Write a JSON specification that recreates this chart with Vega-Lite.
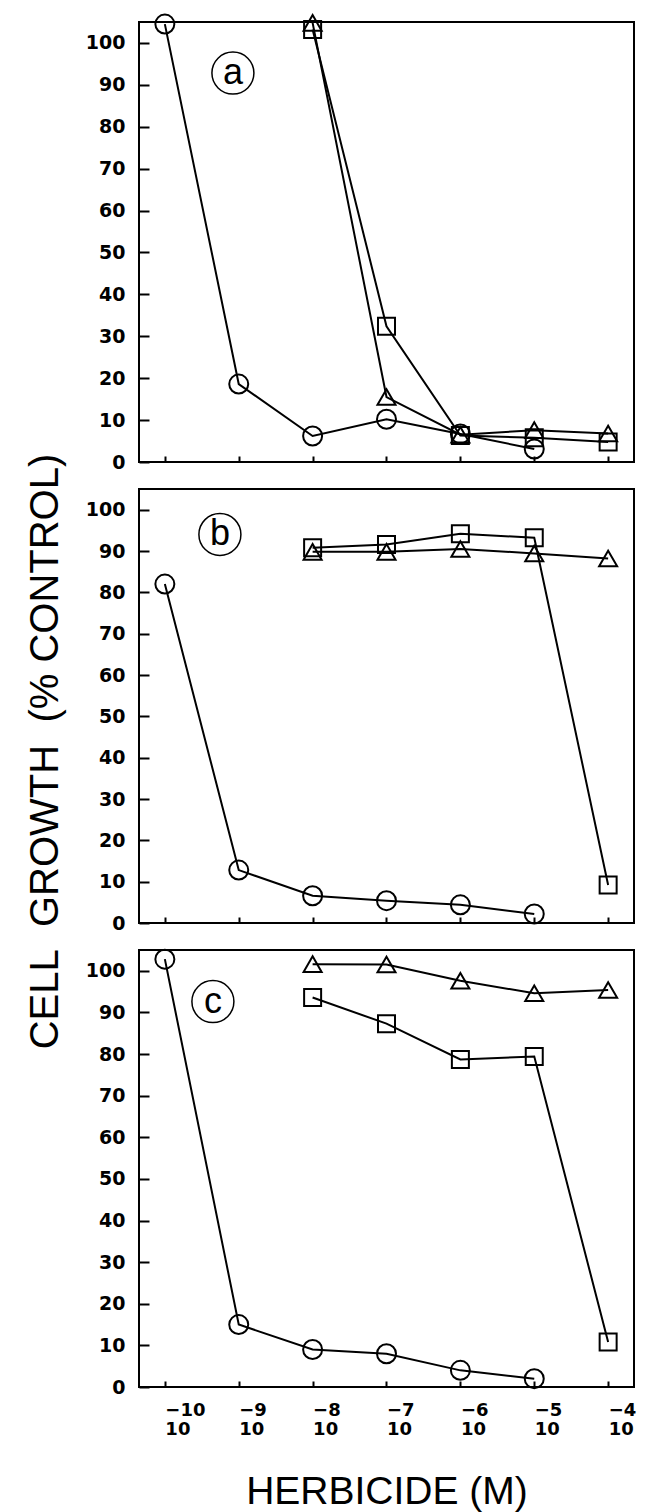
{
  "$schema": "https://vega.github.io/schema/vega-lite/v6.json",
  "background": "white",
  "padding": {"left": 23, "top": 9, "right": 5, "bottom": 0},
  "spacing": 27,
  "bounds": "flush",
  "resolve": {"scale": {"x": "independent", "y": "independent"}},
  "config": {
    "view": {"stroke": "black", "strokeWidth": 2},
    "axis": {
      "domain": false, "grid": false,
      "tickColor": "black", "tickWidth": 2,
      "labelColor": "black", "titleColor": "black",
      "labelFont": "DejaVu Sans", "labelFontWeight": "bold", "labelFontSize": 19
    }
  },
  "datasets": {
    "pts": [
      {"panel": "a", "series": "circle", "conc": 1e-10, "growth": 104.5},
      {"panel": "a", "series": "circle", "conc": 1e-9, "growth": 18.6},
      {"panel": "a", "series": "circle", "conc": 1e-8, "growth": 6.2},
      {"panel": "a", "series": "circle", "conc": 1e-7, "growth": 10.2},
      {"panel": "a", "series": "circle", "conc": 1e-6, "growth": 6.7},
      {"panel": "a", "series": "circle", "conc": 1e-5, "growth": 3.1},
      {"panel": "a", "series": "triangle", "conc": 1e-8, "growth": 104.8},
      {"panel": "a", "series": "triangle", "conc": 1e-7, "growth": 15.5},
      {"panel": "a", "series": "triangle", "conc": 1e-6, "growth": 6.5},
      {"panel": "a", "series": "triangle", "conc": 1e-5, "growth": 7.6},
      {"panel": "a", "series": "triangle", "conc": 1e-4, "growth": 6.8},
      {"panel": "a", "series": "square", "conc": 1e-8, "growth": 103.2},
      {"panel": "a", "series": "square", "conc": 1e-7, "growth": 32.4},
      {"panel": "a", "series": "square", "conc": 1e-6, "growth": 6.3},
      {"panel": "a", "series": "square", "conc": 1e-5, "growth": 5.8},
      {"panel": "a", "series": "square", "conc": 1e-4, "growth": 4.8},
      {"panel": "b", "series": "circle", "conc": 1e-10, "growth": 82},
      {"panel": "b", "series": "circle", "conc": 1e-9, "growth": 12.8},
      {"panel": "b", "series": "circle", "conc": 1e-8, "growth": 6.6},
      {"panel": "b", "series": "circle", "conc": 1e-7, "growth": 5.4},
      {"panel": "b", "series": "circle", "conc": 1e-6, "growth": 4.4},
      {"panel": "b", "series": "circle", "conc": 1e-5, "growth": 2.2},
      {"panel": "b", "series": "triangle", "conc": 1e-8, "growth": 89.8},
      {"panel": "b", "series": "triangle", "conc": 1e-7, "growth": 89.8},
      {"panel": "b", "series": "triangle", "conc": 1e-6, "growth": 90.5},
      {"panel": "b", "series": "triangle", "conc": 1e-5, "growth": 89.4},
      {"panel": "b", "series": "triangle", "conc": 1e-4, "growth": 88.2},
      {"panel": "b", "series": "square", "conc": 1e-8, "growth": 90.8},
      {"panel": "b", "series": "square", "conc": 1e-7, "growth": 91.6},
      {"panel": "b", "series": "square", "conc": 1e-6, "growth": 94.2},
      {"panel": "b", "series": "square", "conc": 1e-5, "growth": 93.2},
      {"panel": "b", "series": "square", "conc": 1e-4, "growth": 9.2},
      {"panel": "c", "series": "circle", "conc": 1e-10, "growth": 102.8},
      {"panel": "c", "series": "circle", "conc": 1e-9, "growth": 15},
      {"panel": "c", "series": "circle", "conc": 1e-8, "growth": 9},
      {"panel": "c", "series": "circle", "conc": 1e-7, "growth": 8},
      {"panel": "c", "series": "circle", "conc": 1e-6, "growth": 4},
      {"panel": "c", "series": "circle", "conc": 1e-5, "growth": 2},
      {"panel": "c", "series": "triangle", "conc": 1e-8, "growth": 101.6},
      {"panel": "c", "series": "triangle", "conc": 1e-7, "growth": 101.5},
      {"panel": "c", "series": "triangle", "conc": 1e-6, "growth": 97.6},
      {"panel": "c", "series": "triangle", "conc": 1e-5, "growth": 94.6},
      {"panel": "c", "series": "triangle", "conc": 1e-4, "growth": 95.4},
      {"panel": "c", "series": "square", "conc": 1e-8, "growth": 93.6},
      {"panel": "c", "series": "square", "conc": 1e-7, "growth": 87.3},
      {"panel": "c", "series": "square", "conc": 1e-6, "growth": 78.7},
      {"panel": "c", "series": "square", "conc": 1e-5, "growth": 79.4},
      {"panel": "c", "series": "square", "conc": 1e-4, "growth": 10.8}
    ],
    "tags": [
      {"panel": "a", "letter": "a", "conc": 8.34e-10, "growth": 92.8},
      {"panel": "b", "letter": "b", "conc": 5.56e-10, "growth": 94.0},
      {"panel": "c", "letter": "c", "conc": 4.47e-10, "growth": 92.6}
    ]
  },
  "vconcat": [
    {
      "width": 495, "height": 440,
      "layer": [
        {"data": {"name": "pts"}, "transform": [{"filter": "datum.panel === 'a'"}],
         "mark": {"type": "line", "color": "black", "strokeWidth": 2},
         "encoding": {
           "x": {"field": "conc", "type": "quantitative", "scale": {"type": "log", "domain": [4.467e-11, 2.239e-4], "nice": false},
                 "axis": {"values": [1e-10, 1e-9, 1e-8, 1e-7, 1e-6, 1e-5, 1e-4], "labels": false, "tickSize": -6, "title": null}},
           "y": {"field": "growth", "type": "quantitative", "scale": {"domain": [0, 105], "nice": false},
                 "axis": {"values": [0,5,10,15,20,25,30,35,40,45,50,55,60,65,70,75,80,85,90,95,100],
                          "labelExpr": "datum.value % 10 === 0 ? datum.label : ''",
                          "tickSize": {"condition": {"test": "datum.value % 10 === 0", "value": -10}, "value": -5},
                          "labelPadding": 24, "title": null}},
           "detail": {"field": "series"}
         }},
        {"data": {"name": "pts"}, "transform": [{"filter": "datum.panel === 'a'"}],
         "mark": {"type": "point", "filled": false, "color": "black", "strokeWidth": 2, "opacity": 1},
         "encoding": {
           "x": {"field": "conc", "type": "quantitative"},
           "y": {"field": "growth", "type": "quantitative"},
           "shape": {"field": "series", "type": "nominal", "scale": {"domain": ["circle", "triangle", "square"], "range": ["circle", "triangle-up", "square"]}, "legend": null},
           "size": {"field": "series", "type": "nominal", "scale": {"domain": ["circle", "triangle", "square"], "range": [361, 289, 196]}, "legend": null}
         }},
        {"data": {"name": "tags"}, "transform": [{"filter": "datum.panel === 'a'"}],
         "mark": {"type": "point", "shape": "circle", "filled": false, "size": 1764, "color": "black", "strokeWidth": 1.5, "opacity": 1},
         "encoding": {"x": {"field": "conc", "type": "quantitative"}, "y": {"field": "growth", "type": "quantitative"}}},
        {"data": {"name": "tags"}, "transform": [{"filter": "datum.panel === 'a'"}],
         "mark": {"type": "text", "font": "Liberation Sans", "fontSize": 36, "baseline": "middle", "align": "center", "color": "black"},
         "encoding": {"x": {"field": "conc", "type": "quantitative"}, "y": {"field": "growth", "type": "quantitative"}, "text": {"field": "letter"}}}
      ]
    },
    {
      "width": 495, "height": 434,
      "layer": [
        {"data": {"name": "pts"}, "transform": [{"filter": "datum.panel === 'b'"}],
         "mark": {"type": "line", "color": "black", "strokeWidth": 2},
         "encoding": {
           "x": {"field": "conc", "type": "quantitative", "scale": {"type": "log", "domain": [4.467e-11, 2.239e-4], "nice": false},
                 "axis": {"values": [1e-10, 1e-9, 1e-8, 1e-7, 1e-6, 1e-5, 1e-4], "labels": false, "tickSize": -6, "title": null}},
           "y": {"field": "growth", "type": "quantitative", "scale": {"domain": [0, 105], "nice": false},
                 "axis": {"values": [0,5,10,15,20,25,30,35,40,45,50,55,60,65,70,75,80,85,90,95,100],
                          "labelExpr": "datum.value % 10 === 0 ? datum.label : ''",
                          "tickSize": {"condition": {"test": "datum.value % 10 === 0", "value": -10}, "value": -5},
                          "labelPadding": 24,
                          "title": "CELL\u00a0\u00a0GROWTH\u00a0\u00a0(% CONTROL)",
                          "titleFont": "Liberation Sans", "titleFontSize": 40, "titleFontWeight": "normal",
                          "titleAngle": -90, "titleAlign": "center", "titleBaseline": "alphabetic",
                          "titleX": -82, "titleY": 262}},
           "detail": {"field": "series"}
         }},
        {"data": {"name": "pts"}, "transform": [{"filter": "datum.panel === 'b'"}],
         "mark": {"type": "point", "filled": false, "color": "black", "strokeWidth": 2, "opacity": 1},
         "encoding": {
           "x": {"field": "conc", "type": "quantitative"},
           "y": {"field": "growth", "type": "quantitative"},
           "shape": {"field": "series", "type": "nominal", "scale": {"domain": ["circle", "triangle", "square"], "range": ["circle", "triangle-up", "square"]}, "legend": null},
           "size": {"field": "series", "type": "nominal", "scale": {"domain": ["circle", "triangle", "square"], "range": [361, 289, 196]}, "legend": null}
         }},
        {"data": {"name": "tags"}, "transform": [{"filter": "datum.panel === 'b'"}],
         "mark": {"type": "point", "shape": "circle", "filled": false, "size": 1764, "color": "black", "strokeWidth": 1.5, "opacity": 1},
         "encoding": {"x": {"field": "conc", "type": "quantitative"}, "y": {"field": "growth", "type": "quantitative"}}},
        {"data": {"name": "tags"}, "transform": [{"filter": "datum.panel === 'b'"}],
         "mark": {"type": "text", "font": "Liberation Sans", "fontSize": 36, "baseline": "middle", "align": "center", "color": "black"},
         "encoding": {"x": {"field": "conc", "type": "quantitative"}, "y": {"field": "growth", "type": "quantitative"}, "text": {"field": "letter"}}}
      ]
    },
    {
      "width": 495, "height": 437,
      "layer": [
        {"data": {"name": "pts"}, "transform": [{"filter": "datum.panel === 'c'"}],
         "mark": {"type": "line", "color": "black", "strokeWidth": 2},
         "encoding": {
           "x": {"field": "conc", "type": "quantitative", "scale": {"type": "log", "domain": [4.467e-11, 2.239e-4], "nice": false},
                 "axis": {"values": [1e-10, 1e-9, 1e-8, 1e-7, 1e-6, 1e-5, 1e-4], "tickSize": -6,
                          "labelExpr": "['\u00a0\u00a0\u2212' + abs(round(log(datum.value) / LN10)), '10']",
                          "labelFontSize": 18,
                          "labelAlign": "left", "labelDx": -11, "labelBaseline": "top", "labelLineHeight": 19,
                          "labelPadding": 20, "labelFlush": false, "labelOverlap": false, "labelBound": false,
                          "title": "HERBICIDE (M)", "titleFont": "Liberation Sans", "titleFontSize": 39, "titleFontWeight": "normal",
                          "titleBaseline": "alphabetic", "titleY": 116}},
           "y": {"field": "growth", "type": "quantitative", "scale": {"domain": [0, 105], "nice": false},
                 "axis": {"values": [0,5,10,15,20,25,30,35,40,45,50,55,60,65,70,75,80,85,90,95,100],
                          "labelExpr": "datum.value % 10 === 0 ? datum.label : ''",
                          "tickSize": {"condition": {"test": "datum.value % 10 === 0", "value": -10}, "value": -5},
                          "labelPadding": 24, "title": null}},
           "detail": {"field": "series"}
         }},
        {"data": {"name": "pts"}, "transform": [{"filter": "datum.panel === 'c'"}],
         "mark": {"type": "point", "filled": false, "color": "black", "strokeWidth": 2, "opacity": 1},
         "encoding": {
           "x": {"field": "conc", "type": "quantitative"},
           "y": {"field": "growth", "type": "quantitative"},
           "shape": {"field": "series", "type": "nominal", "scale": {"domain": ["circle", "triangle", "square"], "range": ["circle", "triangle-up", "square"]}, "legend": null},
           "size": {"field": "series", "type": "nominal", "scale": {"domain": ["circle", "triangle", "square"], "range": [361, 289, 196]}, "legend": null}
         }},
        {"data": {"name": "tags"}, "transform": [{"filter": "datum.panel === 'c'"}],
         "mark": {"type": "point", "shape": "circle", "filled": false, "size": 1764, "color": "black", "strokeWidth": 1.5, "opacity": 1},
         "encoding": {"x": {"field": "conc", "type": "quantitative"}, "y": {"field": "growth", "type": "quantitative"}}},
        {"data": {"name": "tags"}, "transform": [{"filter": "datum.panel === 'c'"}],
         "mark": {"type": "text", "font": "Liberation Sans", "fontSize": 36, "baseline": "middle", "align": "center", "color": "black"},
         "encoding": {"x": {"field": "conc", "type": "quantitative"}, "y": {"field": "growth", "type": "quantitative"}, "text": {"field": "letter"}}}
      ]
    }
  ]
}
